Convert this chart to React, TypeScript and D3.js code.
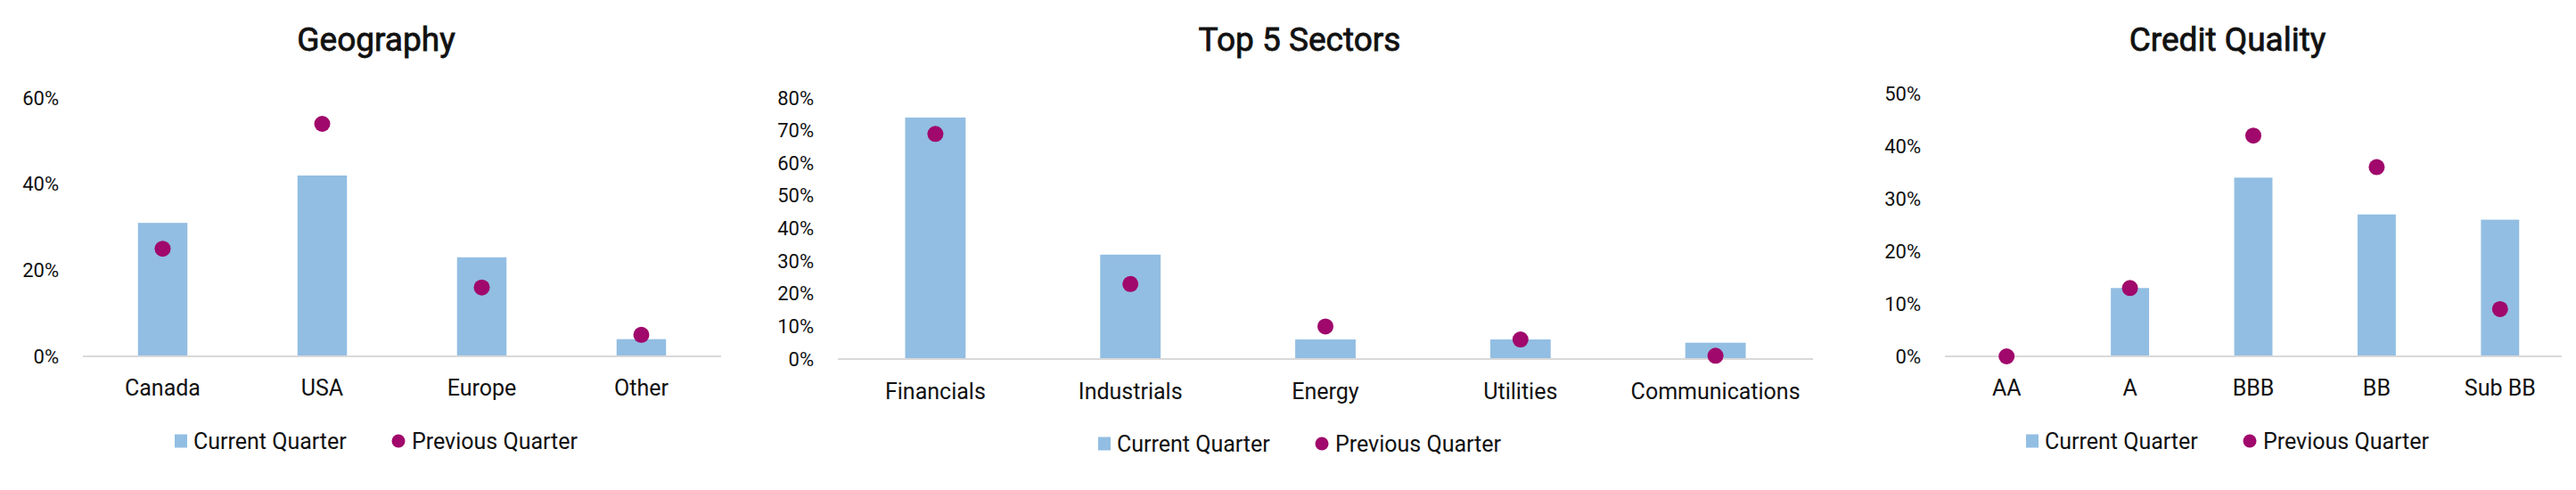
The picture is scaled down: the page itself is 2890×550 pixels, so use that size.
import * as d3 from "d3";

const geoCategories = ["Canada", "USA", "Europe", "Other"];
const geoCurrent = [31, 42, 23, 4];
const geoPrevious = [25, 54, 16, 5];
const geoTicks = [0, 20, 40, 60];

const sectorCategories = ["Financials", "Industrials", "Energy", "Utilities", "Communications"];
const sectorCurrent = [74, 32, 6, 6, 5];
const sectorPrevious = [69, 23, 10, 6, 1];
const sectorTicks = [0, 10, 20, 30, 40, 50, 60, 70, 80];

const creditCategories = ["AA", "A", "BBB", "BB", "Sub BB"];
const creditCurrent = [0, 13, 34, 27, 26];
const creditPrevious = [0, 13, 42, 36, 9];
const creditTicks = [0, 10, 20, 30, 40, 50];

const legendLabels = ["Current Quarter", "Previous Quarter"];

const barColor = "#92bee3";
const dotColor = "#a0086b";
const axisColor = "#d9d9d9";
const textColor = "#111";
const font = "Roboto, 'DejaVu Sans', sans-serif";

type PanelProps = {
  title: string;
  categories: string[];
  current: number[];
  previous: number[];
  ticks: number[];
  left: number;
  right: number;
  base: number;
  top: number;
  labelDy: number;
};

function Panel({ title, categories, current, previous, ticks, left, right, base, top, labelDy }: PanelProps) {
  const maxTick = ticks[ticks.length - 1];

  const x = d3.scaleBand()
    .domain(categories)
    .range([left, right])
    .paddingInner(0.69)
    .paddingOuter(0.345);

  const y = d3.scaleLinear()
    .domain([0, maxTick])
    .range([base, top]);

  const center = (left + right) / 2;
  const legendX = center - 255;
  const legendY = base + 95;

  return (
    <g fontFamily={font} fill={textColor}>
      {/* title, a thin stroke gives it a medium weight */}
      <text
        x={center - 29}
        y={57}
        textAnchor="middle"
        fontSize={37}
        stroke={textColor}
        strokeWidth={0.8}
      >
        {title}
      </text>

      {/* y tick labels */}
      {ticks.map(t => (
        <text key={t} x={left - 27} y={y(t)} textAnchor="end" dominantBaseline="central" fontSize={22}>
          {t}%
        </text>
      ))}

      {/* bars */}
      {categories.map((c, i) => (
        <rect
          key={c}
          x={x(c)}
          y={y(current[i])}
          width={x.bandwidth()}
          height={base - y(current[i])}
          fill={barColor}
        />
      ))}

      {/* baseline */}
      <line x1={left} x2={right} y1={base} y2={base} stroke={axisColor} strokeWidth={2} />

      {/* previous quarter dots */}
      {categories.map((c, i) => (
        <circle
          key={c}
          cx={(x(c) ?? 0) + x.bandwidth() / 2}
          cy={y(previous[i])}
          r={9}
          fill={dotColor}
        />
      ))}

      {/* category labels */}
      {categories.map(c => (
        <text
          key={c}
          x={(x(c) ?? 0) + x.bandwidth() / 2}
          y={base + labelDy}
          textAnchor="middle"
          dominantBaseline="central"
          fontSize={25}
        >
          {c}
        </text>
      ))}

      {/* legend */}
      <g transform={`translate(${legendX},${legendY})`}>
        <rect x={0} y={-7.5} width={14} height={15} fill={barColor} />
        <text x={21} y={0} dominantBaseline="central" fontSize={25}>{legendLabels[0]}</text>
        <circle cx={251} cy={0} r={7.5} fill={dotColor} />
        <text x={266} y={0} dominantBaseline="central" fontSize={25}>{legendLabels[1]}</text>
      </g>
    </g>
  );
}

export default function App() {
  return (
    <div style={{ position: "absolute", left: 0, top: 0 }}>
      <svg width={2890} height={550} style={{ display: "block", background: "#fff" }}>
        <Panel
          title="Geography"
          categories={geoCategories}
          current={geoCurrent}
          previous={geoPrevious}
          ticks={geoTicks}
          left={93}
          right={809}
          base={400}
          top={110}
          labelDy={35}
        />
        <Panel
          title="Top 5 Sectors"
          categories={sectorCategories}
          current={sectorCurrent}
          previous={sectorPrevious}
          ticks={sectorTicks}
          left={940}
          right={2034}
          base={403}
          top={110}
          labelDy={36}
        />
        <Panel
          title="Credit Quality"
          categories={creditCategories}
          current={creditCurrent}
          previous={creditPrevious}
          ticks={creditTicks}
          left={2182}
          right={2874}
          base={400}
          top={105}
          labelDy={35}
        />
      </svg>
    </div>
  );
}
